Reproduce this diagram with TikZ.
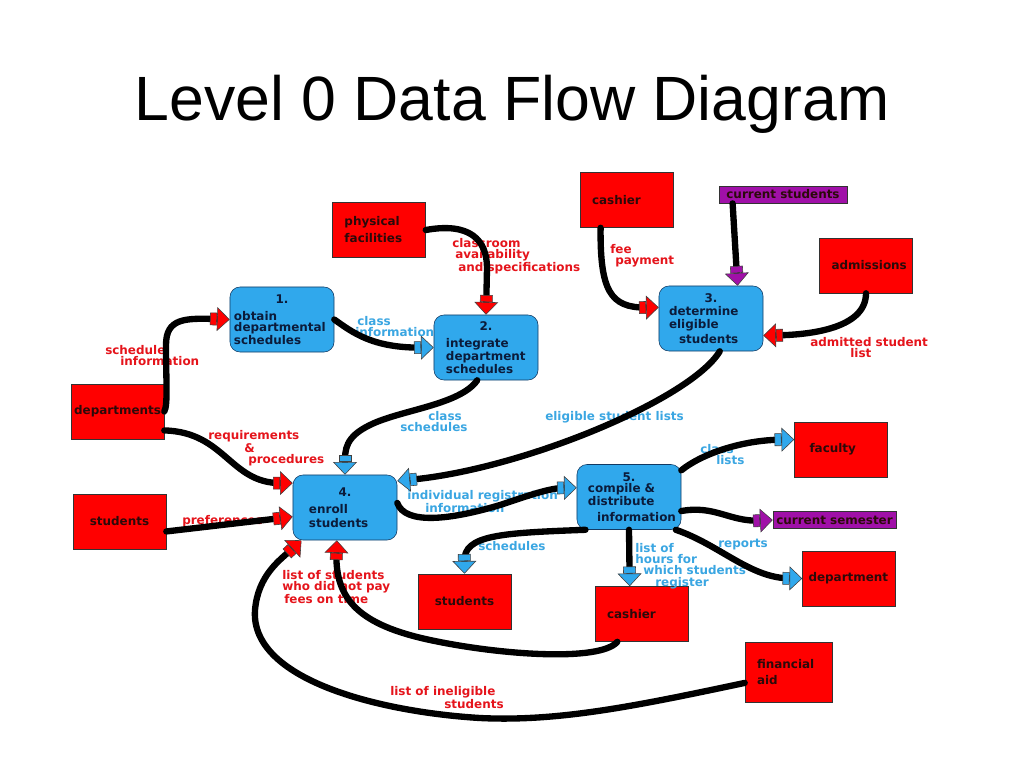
\documentclass[tikz,border=0pt]{standalone}
\usepackage{fontspec}
\setmainfont{Liberation Sans}
\newfontfamily\dfdfont{DejaVu Sans}
\usetikzlibrary{arrows.meta}
\definecolor{boxred}{HTML}{FF0000}
\definecolor{procblue}{HTML}{30A8EC}
\definecolor{procedge}{HTML}{123A63}
\definecolor{storepurple}{HTML}{A010A8}
\definecolor{labelred}{HTML}{E5141B}
\definecolor{labelblue}{HTML}{3AA6E2}
\definecolor{darktext}{HTML}{2B0A0A}
\definecolor{proctext}{HTML}{0B1B3A}
\newcommand\boxfont{\dfdfont\bfseries\fontsize{8.5}{8}\selectfont}
\tikzset{
	entity/.style={draw=black!80, fill=boxred, minimum width=2.325cm, minimum height=1.375cm, inner xsep=.3cm, text width=1.725cm, align=left, text=darktext, font=\boxfont},
	store/.style={draw=black!80, fill=storepurple, minimum width=3.2cm, minimum height=.43cm, inner sep=0pt, text=darktext, font=\boxfont},
	proc/.style={draw=procedge, fill=procblue, rounded corners=.25cm, minimum width=2.6cm, minimum height=1.625cm, inner xsep=.1cm, text width=2.4cm, align=left, text=proctext, font=\boxfont},
	lbl/.style={anchor=north west, inner sep=0pt, align=left, font=\boxfont},
	flowto/.style={line width=4.5pt, line cap=round, -{Rectangle[length=5pt,width=9pt,fill=#1,color=black!75,line width=.4pt]Triangle[length=9pt,width=17pt,fill=#1,color=black!75,line width=.4pt]}}
}
\begin{document}
\begin{tikzpicture}[x=0.025cm, y=-0.025cm]
	%%%%% START %%%%%
	\useasboundingbox[fill=white] (0,0) rectangle (1024,768);
	\node[font=\fontsize{44.5}{50}\selectfont] (title) at (512,104) {Level 0 Data Flow Diagram};
	
	% processes
	\node[proc] (p1) at (282,319.5) {\makebox[2.4cm]{1.}\\[.15cm]obtain\\departmental\\schedules};
	\node[proc] (p2) at (486,347.5) {\makebox[2.4cm]{2.}\\[.15cm]\hspace*{.2cm}integrate\\\hspace*{.2cm}department\\\hspace*{.2cm}schedules};
	\node[proc] (p3) at (711,318.5) {\makebox[2.4cm]{3.}\\[.05cm]\hspace*{.15cm}determine\\[.05cm]\hspace*{.15cm}eligible\\[.05cm]\hspace*{.4cm}students};
	\node[proc] (p4) at (345,507.5) {\makebox[2.4cm]{4.}\\[.15cm]\hspace*{.3cm}enroll\\[.05cm]\hspace*{.3cm}students};
	\node[proc] (p5) at (629,497) {\makebox[2.4cm]{5.}\\\hspace*{.175cm}compile \&\\\hspace*{.175cm}distribute\\[.1cm]\hspace*{.4cm}information};
	
	% external entities and stores
	\node[entity] (phys) at (379,230) {physical\\[.1cm]facilities};
	\node[entity] (cash1) at (626.5,200) {cashier};
	\node[store] (curstud) at (783,194.5) {current students};
	\node[entity, align=center] (adm) at (866,265.5) {admissions};
	\node[entity, inner xsep=.08cm, text width=2.165cm] (depts) at (117.5,411.5) {departments};
	\node[entity, align=center] (stud1) at (119.5,521.5) {students};
	\node[entity] (fac) at (841,449.5) {\hspace*{.075cm}faculty};
	\node[store, minimum width=3.075cm] (cursem) at (834.5,520) {current semester};
	\node[entity, inner xsep=.15cm, text width=2.025cm] (dep) at (849,578.5) {department};
	\node[entity, align=center] (stud2) at (464.5,601.5) {students};
	\node[entity] (cash2) at (641.5,614) {cashier};
	\node[entity, minimum width=2.175cm, minimum height=1.5cm, text width=1.575cm] (fin) at (788.5,672) {financial\\[.1cm]aid};
	
	% labels
	\node[lbl, text=labelred] (lsched) at (105,345) {schedule\\\hspace*{.375cm}information};
	\node[lbl, text=labelblue] (lclassinfo) at (355,316) {\hspace*{.05cm}class\\information};
	\node[lbl, text=labelred] (lroom) at (452,238) {classroom\\\hspace*{.075cm}availability\\\hspace*{.15cm}and specifications};
	\node[lbl, text=labelblue] (lclasssched) at (400,411) {\hspace*{.7cm}class\\schedules};
	\node[lbl, text=labelred] (lreq) at (208,430) {requirements\\\hspace*{.9cm}\&\\\hspace*{1cm}procedures};
	\node[lbl, text=labelred] (lpref) at (182,515) {preferences};
	\node[lbl, text=labelred] (lfee) at (610,244) {fee\\\hspace*{.125cm}payment};
	\node[lbl, text=labelred] (ladm) at (810,337) {admitted student\\\hspace*{1cm}list};
	\node[lbl, text=labelblue] (lelig) at (545,411) {eligible student lists};
	\node[lbl, text=labelblue] (lindiv) at (407,490) {individual registration\\\hspace*{.45cm}information};
	\node[lbl, text=labelblue] (lclasslists) at (700,444) {class\\\hspace*{.4cm}lists};
	\node[lbl, text=labelblue] (lreports) at (718,539) {reports};
	\node[lbl, text=labelblue] (lhours) at (635,543) {list of\\hours for\\\hspace*{.2cm}which students\\\hspace*{.5cm}register};
	\node[lbl, text=labelblue] (lsched2) at (478,541) {schedules};
	\node[lbl, text=labelred] (lnotpay) at (282,570) {list of students\\who did not pay\\\hspace*{.05cm}fees on time};
	\node[lbl, text=labelred] (linelig) at (390,686) {list of ineligible\\\hspace*{1.35cm}students};
	
	% data flows
	\draw[flowto=boxred] (depts.east) .. controls (168,405) and (166,380) .. (166,345) .. controls (166,318) and (185,318) .. (p1.west);
	\draw[flowto=procblue] (p1.east) .. controls (352,332) and (372,348) .. (p2.west);
	\draw[flowto=boxred] (phys.east) .. controls (470,222) and (487,240) .. (487,268) -- (p2.north);
	\draw[flowto=procblue] (p2.-105) .. controls (460,405) and (400,410) .. (370,425) .. controls (345,437) and (345,450) .. (p4.north);
	\draw[flowto=boxred] (depts.-22) .. controls (225,432) and (230,483) .. (p4.155);
	\draw[flowto=boxred] (stud1.-12) -- (p4.-170);
	\draw[flowto=boxred] (cash1.-133) .. controls (600,290) and (610,308) .. (p3.168);
	\draw[flowto=storepurple] (curstud.-170) -- (p3.51);
	\draw[flowto=boxred] (adm.south) .. controls (866,330) and (805,335) .. (p3.-18);
	\draw[flowto=procblue] (p3.-75) .. controls (690,400) and (520,470) .. (p4.27);
	\draw[flowto=procblue] (p4.5) .. controls (405,525) and (450,520) .. (500,505) .. controls (530,495) and (550,488) .. (p5.170);
	\draw[flowto=procblue] (p5.27) .. controls (700,455) and (740,440) .. (fac.168);
	\draw[flowto=storepurple] (p5.-15) .. controls (715,505) and (730,522) .. (cursem.west);
	\draw[flowto=procblue] (p5.-35) .. controls (720,545) and (750,578) .. (dep.west);
	\draw[flowto=procblue] (p5.south) -- (cash2.113);
	\draw[flowto=procblue] (p5.-143) .. controls (500,533) and (464,535) .. (stud2.north);
	\draw[flowto=boxred] (cash2.-131) .. controls (600,662) and (500,655) .. (430,640) .. controls (360,625) and (335,600) .. (p4.-104);
	\draw[flowto=boxred] (fin.-166) .. controls (640,705) and (560,722) .. (480,718) .. controls (380,712) and (250,680) .. (255,610) .. controls (258,575) and (280,560) .. (p4.-143);
	
	%%%%% END %%%%%
\end{tikzpicture}
\end{document}
